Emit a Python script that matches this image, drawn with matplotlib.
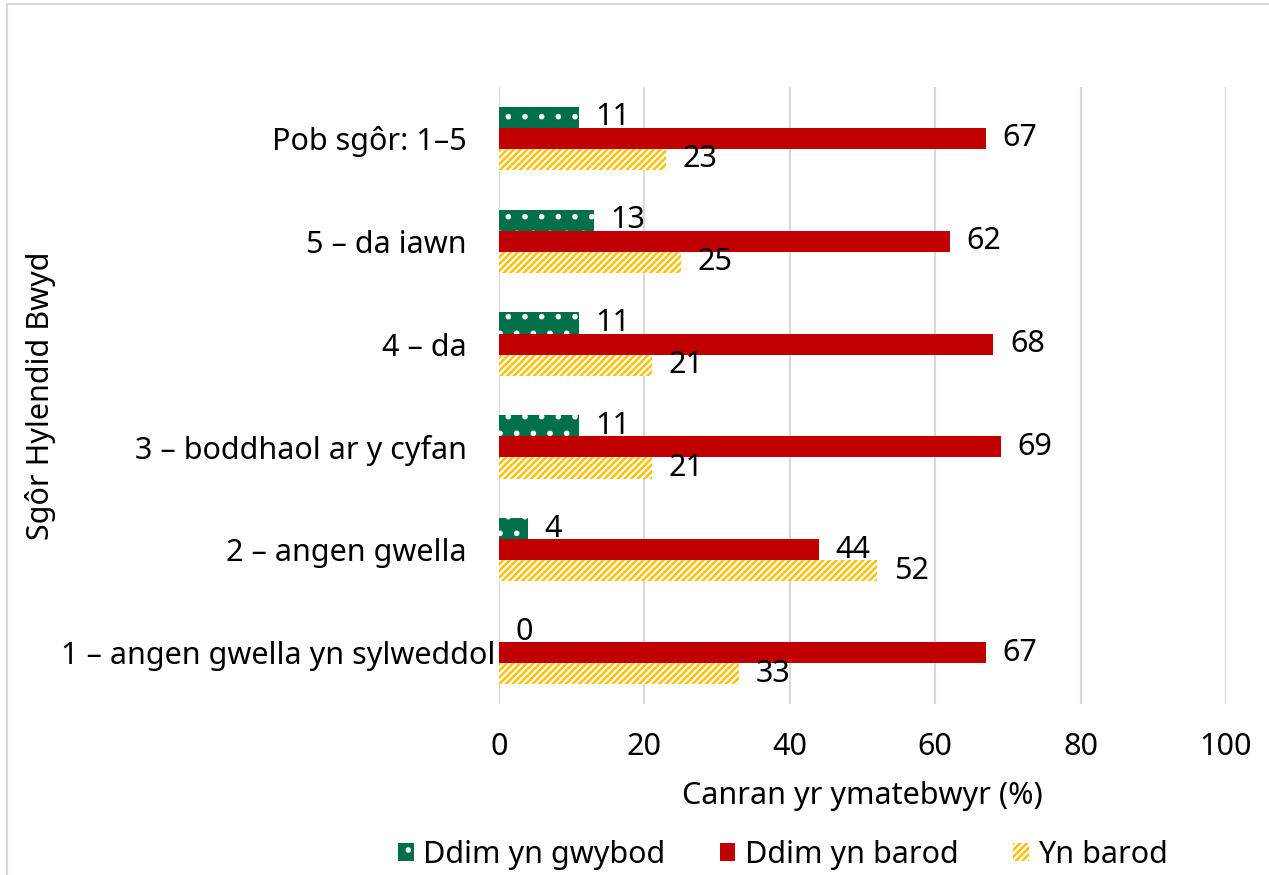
import matplotlib.pyplot as plt
import matplotlib.patches as mpatches
import matplotlib.transforms as mtransforms
import numpy as np

plt.rcParams['font.family'] = ['Noto Sans', 'DejaVu Sans']
plt.rcParams['hatch.linewidth'] = 1.6

# Data
categories = ["Pob sgôr: 1–5", "5 – da iawn", "4 – da", "3 – boddhaol ar y cyfan",
              "2 – angen gwella", "1 – angen gwella yn sylweddol"]
ddim_gwybod = [11, 13, 11, 11, 4, 0]
ddim_barod = [67, 62, 68, 69, 44, 67]
yn_barod = [23, 25, 21, 21, 52, 33]
series_names = ["Ddim yn gwybod", "Ddim yn barod", "Yn barod"]
xticks = [0, 20, 40, 60, 80, 100]

FS = 22

fig = plt.figure(figsize=(12.69, 8.75), dpi=100)
ax = fig.add_axes([499 / 1269, 1 - 704 / 875, 727 / 1269, 617 / 875])

y = np.arange(len(categories))
h = 0.205

b1 = ax.barh(y - h, ddim_gwybod, height=h, color="#00704A", edgecolor="white",
             hatch=".", linewidth=0, label=series_names[0])
b2 = ax.barh(y, ddim_barod, height=h, color="#C00000", linewidth=0,
             label=series_names[1])
b3 = ax.barh(y + h, yn_barod, height=h, color="#FFC000", edgecolor="white",
             hatch="/////", linewidth=0, label=series_names[2])

for bars, vals in [(b1, ddim_gwybod), (b2, ddim_barod), (b3, yn_barod)]:
    for bar, v in zip(bars, vals):
        ax.annotate(str(v), (v, bar.get_y() + bar.get_height() / 2),
                    xytext=(12, 0), textcoords="offset points",
                    va="center", ha="left", fontsize=FS)

ax.set_ylim(len(categories) - 0.5, -0.5)
ax.set_xlim(0, 100)
ax.set_xticks(xticks)
ax.set_yticks(y)
ax.set_yticklabels(categories)
ax.tick_params(axis="both", length=0, labelsize=FS)
ax.tick_params(axis="x", pad=20)
ax.tick_params(axis="y", pad=23)
ax.grid(axis="x", color="#d9d9d9", linewidth=1.5)
ax.set_axisbelow(True)
for s in ax.spines.values():
    s.set_visible(False)

# the longest category label sits closer to the axis, as in the original
last = ax.get_yticklabels()[-1]
last.set_transform(last.get_transform() +
                   mtransforms.ScaledTranslation(28 / 100, 0, fig.dpi_scale_trans))

ax.set_xlabel("Canran yr ymatebwyr (%)", fontsize=FS, labelpad=14)
ax.set_ylabel("Sgôr Hylendid Bwyd", fontsize=FS)
ax.yaxis.set_label_coords(-443 / 727, 0.5)

fig.legend(handles=[b1, b2, b3], loc="center", bbox_to_anchor=(783 / 1269, 1 - 855 / 875),
           ncol=3, frameon=False, fontsize=FS, handlelength=0.5, handleheight=0.5,
           columnspacing=1.8, handletextpad=0.3)

fig.patches.append(mpatches.Rectangle((7 / 1269, -0.1), 1.2, 1 - 4 / 875 + 0.1,
                                      transform=fig.transFigure, fill=False,
                                      edgecolor="#d9d9d9", linewidth=1.5))

fig.savefig("out.png", dpi=100)
